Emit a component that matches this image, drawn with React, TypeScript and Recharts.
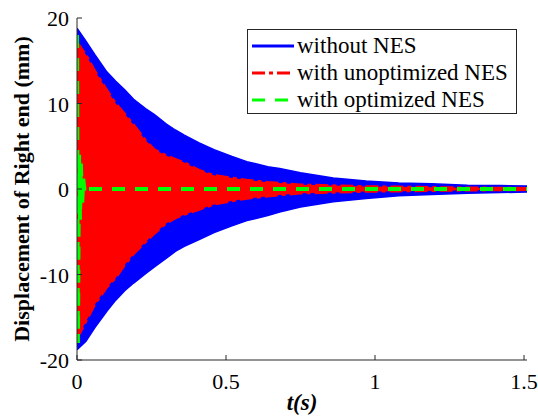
import React from "react";
import { ComposedChart, Area, Line, XAxis, YAxis, Legend } from "recharts";

// envelope sample times (s)
const envT = [0, 0.03, 0.06, 0.1, 0.13, 0.16, 0.19, 0.23, 0.26, 0.3, 0.33, 0.36, 0.41, 0.46, 0.52, 0.57, 0.64, 0.68, 0.75, 0.86, 0.97, 1.08, 1.19, 1.31, 1.42, 1.51];

// without NES: upper / lower peaks (mm)
const blueHi = [18.8, 17.3, 15.7, 13.7, 12.6, 11.6, 10.5, 9.4, 8.7, 7.6, 6.9, 6.3, 5.4, 4.6, 3.8, 3.2, 2.6, 2.4, 1.9, 1.3, 0.95, 0.7, 0.6, 0.45, 0.4, 0.35];
const blueLo = [-18.8, -17.8, -16.2, -14.3, -13.0, -11.9, -11.0, -9.9, -9.1, -8.1, -7.3, -6.7, -5.9, -5.1, -4.3, -3.7, -3.1, -2.7, -2.1, -1.5, -1.1, -0.8, -0.65, -0.5, -0.42, -0.35];

// with unoptimized NES
const redHi = [17.2, 15.7, 13.8, 11.6, 10.0, 8.8, 7.5, 5.7, 4.6, 3.9, 3.5, 3.1, 2.2, 1.6, 1.3, 1.05, 0.8, 0.7, 0.5, 0.4, 0.3, 0.25, 0.2, 0.15, 0.12, 0.1];
const redLo = [-17.5, -15.5, -13.5, -11.5, -10.4, -8.9, -7.6, -6.2, -5.2, -4.0, -3.4, -3.0, -2.4, -1.8, -1.4, -1.1, -0.85, -0.7, -0.5, -0.4, -0.3, -0.25, -0.2, -0.15, -0.12, -0.1];

// with optimized NES: one big swing, then it dies out within a few hundredths of a second
const greenT = [0, 0.003, 0.007, 0.01, 0.013, 0.017, 0.021, 0.026, 0.03, 1.51];
const greenV = [18, -18, 4.2, -3.6, 3, -2, 1.2, -0.5, 0, 0];

const xTicks = [0, 0.5, 1, 1.5];
const yTicks = [-20, -10, 0, 10, 20];

const legendNames = ["without NES", "with unoptimized NES", "with optimized NES"];
const legendColors = ["#0000ff", "#ff0000", "#00ff00"];
const legendDash = ["", "13 4 4 4", "13 10"];

const blueRows = envT.map((t, i) => ({ t, band: [blueLo[i], blueHi[i]] }));
const redRows = envT.map((t, i) => ({ t, band: [redLo[i], redHi[i]] }));
const greenRows = greenT.map((t, i) => ({ t, v: greenV[i] }));

const FONT = "Liberation Serif, DejaVu Serif, serif";
const AXIS = "#262626";
const TICK = 5;

const BottomTick = ({ x, y, payload }: any) => (
  <g>
    <line x1={x} y1={y} x2={x} y2={y - TICK} stroke={AXIS} />
    <text x={x} y={y + 29} textAnchor="middle" fontSize={22} fontFamily={FONT} fill="#000">
      {payload.value}
    </text>
  </g>
);

const LeftTick = ({ x, y, payload }: any) => (
  <g>
    <line x1={x} y1={y} x2={x + TICK} y2={y} stroke={AXIS} />
    <text x={x - 8} y={y + 8} textAnchor="end" fontSize={22} fontFamily={FONT} fill="#000">
      {payload.value}
    </text>
  </g>
);

const TopTick = ({ x, y }: any) => <line x1={x} y1={y} x2={x} y2={y + TICK} stroke={AXIS} />;
const RightTick = ({ x, y }: any) => <line x1={x} y1={y} x2={x - TICK} y2={y} stroke={AXIS} />;

const YTitle = ({ viewBox }: any) => {
  const cx = viewBox.x + 29;
  const cy = viewBox.y + viewBox.height / 2;
  return (
    <text x={cx} y={cy} transform={`rotate(-90 ${cx} ${cy})`} textAnchor="middle" fontSize={22} fontWeight="bold" fontFamily={FONT} fill="#000">
      Displacement of Right end (mm)
    </text>
  );
};

const XTitle = ({ viewBox }: any) => (
  <text x={viewBox.x + viewBox.width / 2} y={viewBox.y + 50} textAnchor="middle" fontSize={23} fontWeight="bold" fontStyle="italic" fontFamily={FONT} fill="#000">
    t(s)
  </text>
);

const LegendBox = () => (
  <div style={{ width: 270, height: 85, border: `1px solid ${AXIS}`, background: "#fff", boxSizing: "border-box", paddingTop: 2 }}>
    {legendNames.map((name, i) => (
      <div key={name} style={{ display: "flex", alignItems: "center", height: 27, fontFamily: FONT, fontSize: 23, color: "#000", lineHeight: "27px" }}>
        <svg width={49} height={10} style={{ flex: "none" }}>
          <line x1={4} y1={5} x2={46} y2={5} stroke={legendColors[i]} strokeWidth={3} strokeDasharray={legendDash[i] || undefined} />
        </svg>
        <span>{name}</span>
      </div>
    ))}
  </div>
);

export default function App() {
  return (
    <div style={{ position: "absolute", left: 0, top: 0, width: 538, height: 420, background: "#fff" }}>
      <ComposedChart width={538} height={420} margin={{ top: 18, right: 11, bottom: 0, left: 0 }}>
        <XAxis
          dataKey="t"
          type="number"
          domain={[0, 1.51]}
          ticks={xTicks}
          height={60}
          tickSize={0}
          tickMargin={0}
          tickLine={false}
          axisLine={{ stroke: AXIS }}
          tick={<BottomTick />}
          allowDataOverflow
          label={<XTitle />}
        />
        <XAxis
          xAxisId="top"
          orientation="top"
          type="number"
          domain={[0, 1.51]}
          ticks={xTicks}
          height={0}
          tickSize={0}
          tickMargin={0}
          tickLine={false}
          axisLine={{ stroke: AXIS }}
          tick={<TopTick />}
        />
        <YAxis
          type="number"
          domain={[-20, 20]}
          ticks={yTicks}
          width={77}
          tickSize={0}
          tickMargin={0}
          tickLine={false}
          axisLine={{ stroke: AXIS }}
          tick={<LeftTick />}
          allowDataOverflow
          label={<YTitle />}
        />
        <YAxis
          yAxisId="r"
          orientation="right"
          type="number"
          domain={[-20, 20]}
          ticks={yTicks}
          width={0}
          tickSize={0}
          tickMargin={0}
          tickLine={false}
          axisLine={{ stroke: AXIS }}
          tick={<RightTick />}
        />
        <Area data={blueRows} dataKey="band" type="linear" fill="#0000ff" fillOpacity={1} stroke="#0000ff" strokeWidth={1.5} isAnimationActive={false} />
        <Area data={redRows} dataKey="band" type="linear" fill="#ff0000" fillOpacity={1} stroke="#ff0000" strokeWidth={2.5} strokeDasharray="13 4 4 4" isAnimationActive={false} />
        <Line data={greenRows} dataKey="v" type="linear" stroke="#00ff00" strokeWidth={4} strokeDasharray="13 10" dot={false} isAnimationActive={false} />
        <Legend
          layout="vertical"
          align="center"
          verticalAlign="middle"
          content={<LegendBox />}
          wrapperStyle={{ left: 247, top: 29, width: 270, height: 85 }}
        />
      </ComposedChart>
    </div>
  );
}
